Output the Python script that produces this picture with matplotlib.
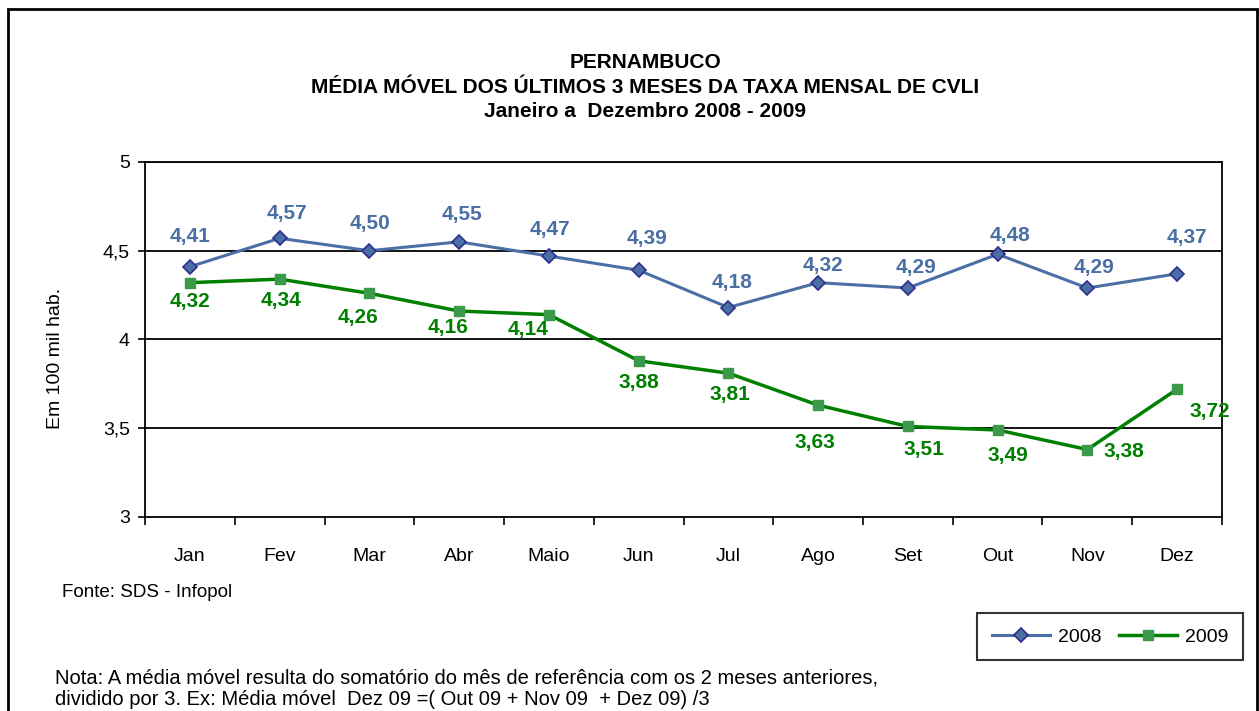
import matplotlib.pyplot as plt
from matplotlib.patches import Rectangle

plt.rcParams['font.family'] = ['Liberation Sans', 'DejaVu Sans']

meses = ['Jan', 'Fev', 'Mar', 'Abr', 'Maio', 'Jun', 'Jul', 'Ago', 'Set', 'Out', 'Nov', 'Dez']
taxa_2008 = [4.41, 4.57, 4.50, 4.55, 4.47, 4.39, 4.18, 4.32, 4.29, 4.48, 4.29, 4.37]
taxa_2009 = [4.32, 4.34, 4.26, 4.16, 4.14, 3.88, 3.81, 3.63, 3.51, 3.49, 3.38, 3.72]
y_ticks = [3, 3.5, 4, 4.5, 5]
y_tick_labels = ['3', '3,5', '4', '4,5', '5']

# deslocamento dos rotulos (pixels), como no grafico original do Excel
desl_2008 = [(0, 30), (7, 25), (1, 27), (3, 27), (1, 27), (8, 32),
             (4, 25), (5, 17), (8, 20), (12, 19), (7, 20), (10, 36)]
desl_2009 = [(0, -19), (1, -21), (-11, -24), (-11, -16), (-21, -15), (0, -22),
             (2, -21), (-3, -37), (16, -23), (10, -26), (37, -2), (33, -22)]

cor_2008 = '#4A6FA5'
cor_2009 = '#008000'

fig = plt.figure(figsize=(12.59, 7.11), dpi=100)
ax = fig.add_axes([0.1152, 0.2729, 0.8554, 0.4993])

x = list(range(len(meses)))
ax.plot(x, taxa_2008, color=cor_2008, lw=2.2, marker='D', ms=7.5,
        mfc=cor_2008, mec='#2E2E8C', mew=1.2, label='2008', zorder=3)
ax.plot(x, taxa_2009, color=cor_2009, lw=2.5, marker='s', ms=7,
        mfc='#3A9A4A', mec='#3A9A4A', label='2009', zorder=3)


def fmt(v):
    return f'{v:.2f}'.replace('.', ',')


for i, v in enumerate(taxa_2008):
    ax.annotate(fmt(v), (i, v), xytext=desl_2008[i], textcoords='offset pixels',
                ha='center', va='center', color=cor_2008, fontsize=15, fontweight='bold')
for i, v in enumerate(taxa_2009):
    ax.annotate(fmt(v), (i, v), xytext=desl_2009[i], textcoords='offset pixels',
                ha='center', va='center', color=cor_2009, fontsize=15, fontweight='bold')

ax.set_xlim(-0.5, len(meses) - 0.5)
ax.set_ylim(3, 5)
ax.set_yticks(y_ticks)
ax.set_yticklabels(y_tick_labels, fontsize=14)
ax.set_xticks(x)
ax.set_xticklabels(meses, fontsize=14)
ax.set_xticks([i - 0.5 for i in range(len(meses) + 1)], minor=True)
ax.tick_params(axis='x', which='major', length=0, pad=22)
ax.tick_params(axis='x', which='minor', length=6, width=1.2, direction='out')
ax.tick_params(axis='y', length=5, width=1.2, direction='out', pad=6)
for yv in y_ticks[1:]:
    ax.axhline(yv, color='black', lw=1.3, zorder=1)
for s in ax.spines.values():
    s.set_linewidth(1.3)
    s.set_color('black')

fig.text(0.0437, 0.4965, 'Em 100 mil hab.', fontsize=14, rotation=90, ha='center', va='center')

titulos = ['PERNAMBUCO',
           'MÉDIA MÓVEL DOS ÚLTIMOS 3 MESES DA TAXA MENSAL DE CVLI',
           'Janeiro a  Dezembro 2008 - 2009']
for k, t in enumerate(titulos):
    fig.text(0.5125, 0.9114 - k * 0.0338, t, ha='center', va='center',
             fontsize=15, fontweight='bold')

fig.text(0.049, 0.167, 'Fonte: SDS - Infopol', fontsize=13.5, va='center')
fig.text(0.044, 0.0464, 'Nota: A média móvel resulta do somatório do mês de referência com os 2 meses anteriores,',
         fontsize=14.5, va='center')
fig.text(0.044, 0.0155, 'dividido por 3. Ex: Média móvel  Dez 09 =( Out 09 + Nov 09  + Dez 09) /3',
         fontsize=14.5, va='center')

leg = fig.legend(loc='center', bbox_to_anchor=(0.8815, 0.1045), ncol=2, fontsize=14,
                 frameon=True, fancybox=False, edgecolor='black', handlelength=3.0,
                 borderpad=0.75, columnspacing=0.9, handletextpad=0.4)
leg.get_frame().set_linewidth(1.5)

fig.patches.append(Rectangle((0.0064, -0.05), 0.992, 1.038, transform=fig.transFigure,
                             fill=False, edgecolor='black', lw=2.0))

fig.savefig('out.png', dpi=100)
